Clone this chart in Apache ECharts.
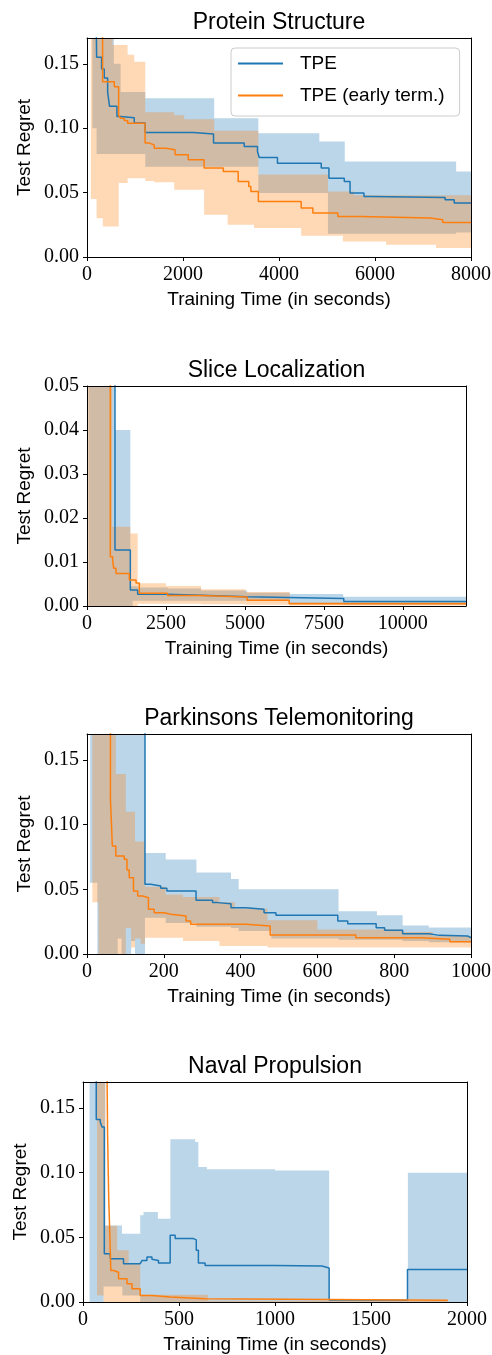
<!DOCTYPE html>
<html>
<head>
<meta charset="utf-8">
<script src="https://cdn.jsdelivr.net/npm/echarts@6/dist/echarts.min.js"></script>
<style>
  html, body { margin: 0; padding: 0; background: #fff; }
  #main { width: 492px; height: 1355px; }
</style>
</head>
<body>
<div id="main"></div>
<script>
// ---- data (time in seconds, test regret) ----
// Protein Structure
const protTpeT = [175, 200, 304, 360, 430, 470, 624, 700, 985, 1214, 2220, 2636, 3275, 3552, 3587, 3968, 4880, 5040, 5360, 5480, 5770, 5920, 7460, 7650, 8000];
const protTpe = [0.25, 0.155, 0.146, 0.139, 0.128, 0.117, 0.109, 0.108, 0.104, 0.0966, 0.0955, 0.0884, 0.0857, 0.0819, 0.0772, 0.0728, 0.069, 0.0612, 0.0586, 0.0496, 0.047, 0.0462, 0.0444, 0.0419, 0.0419];
const protEtT = [242, 325, 569, 659, 700, 777, 846, 1210, 1300, 1401, 1644, 1835, 2110, 2440, 2840, 3150, 3370, 3414, 3570, 4462, 4705, 5225, 5710, 7150, 7411, 8000];
const protEt = [0.25, 0.136, 0.1322, 0.110, 0.1077, 0.106, 0.1039, 0.0884, 0.087, 0.0845, 0.0832, 0.0793, 0.0754, 0.069, 0.0664, 0.0586, 0.0547, 0.0508, 0.0431, 0.038, 0.0341, 0.0315, 0.0302, 0.0289, 0.0268, 0.0268];
const protTpeBandT = [110, 200, 560, 700, 1214, 2650, 3570, 4840, 5020, 5370, 5480, 7690, 8000];
const protTpeLo = [0.10, 0.08, 0.08, 0.08, 0.070, 0.070, 0.0496, 0.0496, 0.018, 0.018, 0.018, 0.019, 0.019];
const protTpeHi = [0.25, 0.25, 0.15, 0.128, 0.1232, 0.1077, 0.0961, 0.0896, 0.0896, 0.0741, 0.0741, 0.0664, 0.0664];
const protEtBandT = [80, 200, 330, 533, 660, 846, 985, 1214, 1400, 1817, 2025, 2440, 2650, 2930, 3480, 3570, 4462, 5020, 5330, 5560, 6230, 7272, 8000];
const protEtLo = [0.045, 0.030, 0.0237, 0.0237, 0.0574, 0.0612, 0.0612, 0.059, 0.058, 0.0522, 0.0522, 0.0328, 0.0328, 0.025, 0.0225, 0.0225, 0.0165, 0.0165, 0.0121, 0.0121, 0.0095, 0.007, 0.007];
const protEtHi = [0.25, 0.25, 0.25, 0.1646, 0.1646, 0.157, 0.1516, 0.1124, 0.1124, 0.110, 0.107, 0.107, 0.098, 0.098, 0.098, 0.064, 0.064, 0.0508, 0.0508, 0.048, 0.048, 0.048, 0.048];

// Slice Localization
const sliceTpeT = [100, 886, 1372, 1604, 2555, 3612, 5070, 8130, 12000];
const sliceTpe = [0.1, 0.0127, 0.00363, 0.00266, 0.00243, 0.0021, 0.00168, 0.001, 0.001];
const sliceEtT = [80, 738, 812, 844, 918, 1340, 1552, 1657, 2555, 3590, 5070, 6400, 12000];
const sliceEt = [0.1, 0.0112, 0.0105, 0.0086, 0.0074, 0.0059, 0.0052, 0.00288, 0.0024, 0.00204, 0.0013, 0.0005, 0.0005];
const sliceTpeBandT = [50, 886, 1372, 1446, 1604, 2555, 3612, 5070, 6421, 8111, 12000];
const sliceTpeLo = [0, 0, 0, 0.0012, 0.0012, 0.0012, 0.0012, 0.0012, 0.0006, 0.0003, 0.0003];
const sliceTpeHi = [0.1, 0.040, 0.0045, 0.0045, 0.0042, 0.0040, 0.0035, 0.003, 0.0027, 0.0021, 0.0021];
const sliceEtBandT = [30, 800, 1372, 1604, 2502, 3612, 5020, 6421, 12000];
const sliceEtLo = [0, 0, 0, 0.0005, 0.0005, 0.0004, 0.0003, 0.0001, 0.0001];
const sliceEtHi = [0.1, 0.018, 0.0165, 0.00515, 0.00454, 0.0038, 0.0032, 0.0009, 0.0009];

// Parkinsons Telemonitoring
const parkTpeT = [20, 151, 166, 192, 208, 284, 327, 340, 375, 414, 461, 492, 653, 679, 753, 775, 822, 891, 917, 991, 1000];
const parkTpe = [0.3, 0.0539, 0.0526, 0.0508, 0.0487, 0.0415, 0.0397, 0.0389, 0.0358, 0.0345, 0.0319, 0.0299, 0.0255, 0.0234, 0.0203, 0.0183, 0.0157, 0.0144, 0.0139, 0.0126, 0.0126];
const parkEtT = [14, 61, 66, 75, 97, 104, 110, 121, 132, 145, 160, 175, 201, 218, 258, 270, 414, 477, 700, 870, 945, 1000];
const parkEt = [0.3, 0.12, 0.0835, 0.0758, 0.0732, 0.065, 0.059, 0.0487, 0.0448, 0.0435, 0.0345, 0.0319, 0.0307, 0.0294, 0.0255, 0.023, 0.0216, 0.0147, 0.0126, 0.0114, 0.0095, 0.0095];
const parkTpeBandT = [8, 27, 75, 80, 90, 115, 125, 151, 205, 285, 375, 395, 480, 655, 755, 822, 890, 1000];
const parkTpeLo = [0.055, 0, 0, 0.012, 0, 0.01, 0, 0.028, 0.024, 0.021, 0.020, 0.0178, 0.012, 0.011, 0.011, 0.010, 0.009, 0.009];
const parkTpeHi = [0.3, 0.3, 0.3, 0.3, 0.3, 0.3, 0.3, 0.078, 0.073, 0.063, 0.058, 0.050, 0.050, 0.033, 0.030, 0.022, 0.0205, 0.0205];
const parkEtBandT = [14, 30, 75, 101, 115, 125, 140, 151, 205, 250, 270, 345, 385, 470, 600, 822, 900, 1000];
const parkEtLo = [0.04, 0, 0, 0.02, 0.005, 0.012, 0.008, 0.0126, 0.0126, 0.010, 0.010, 0.0062, 0.0062, 0.005, 0.005, 0.005, 0.005, 0.005];
const parkEtHi = [0.3, 0.3, 0.139, 0.11, 0.11, 0.087, 0.087, 0.052, 0.046, 0.044, 0.044, 0.040, 0.035, 0.026, 0.019, 0.017, 0.014, 0.014];

// Naval Propulsion
const navTpeT = [30, 69, 90, 99, 111, 142, 211, 298, 307, 333, 359, 367, 393, 454, 480, 575, 590, 601, 636, 1000, 1244, 1282, 1417, 1690, 2000];
const navTpe = [0.3, 0.141, 0.139, 0.1353, 0.0373, 0.0335, 0.0296, 0.031, 0.032, 0.0347, 0.033, 0.032, 0.0302, 0.0515, 0.049, 0.048, 0.040, 0.0302, 0.0283, 0.0278, 0.0263, 0.0016, 0.0013, 0.0252, 0.0252];
const navEtT = [100, 121, 128, 134, 140, 145, 160, 185, 229, 255, 298, 359, 454, 636, 1900];
const navEt = [0.3, 0.25, 0.13, 0.08, 0.05, 0.0244, 0.023, 0.018, 0.0141, 0.0103, 0.0051, 0.0039, 0.0026, 0.0013, 0.0013];
const navTpeBandT = [34, 107, 116, 203, 205, 298, 315, 390, 455, 584, 601, 645, 1000, 1282, 1692, 2000];
const navTpeLo = [0, 0.012, 0.012, 0.012, 0.005, 0, 0, 0, 0, 0, 0, 0, 0, 0, 0, 0];
const navTpeHi = [0.3, 0.3, 0.0592, 0.0528, 0.0528, 0.067, 0.0696, 0.0644, 0.1257, 0.1237, 0.1044, 0.1025, 0.1017, 0.002, 0.0999, 0.0999];
const navEtBandT = [73, 107, 116, 178, 238, 298, 652, 1900];
const navEtLo = [0.005, 0, 0, 0, 0, 0, 0, 0];
const navEtHi = [0.3, 0.3, 0.059, 0.040, 0.030, 0.0056, 0.001, 0.001];

const titles = ['Protein Structure', 'Slice Localization', 'Parkinsons Telemonitoring', 'Naval Propulsion'];
const xMaxes = [8000, 12000, 1000, 2000];
const xTickVals = [
  [0, 2000, 4000, 6000, 8000],
  [0, 2500, 5000, 7500, 10000],
  [0, 200, 400, 600, 800, 1000],
  [0, 500, 1000, 1500, 2000]
];
const yMaxes = [0.17, 0.05, 0.17, 0.17];
const yTickVals = [
  [0, 0.05, 0.10, 0.15],
  [0, 0.01, 0.02, 0.03, 0.04, 0.05],
  [0, 0.05, 0.10, 0.15],
  [0, 0.05, 0.10, 0.15]
];

const panels = [
  { tpe: [protTpeT, protTpe], et: [protEtT, protEt], tpeBand: [protTpeBandT, protTpeLo, protTpeHi], etBand: [protEtBandT, protEtLo, protEtHi] },
  { tpe: [sliceTpeT, sliceTpe], et: [sliceEtT, sliceEt], tpeBand: [sliceTpeBandT, sliceTpeLo, sliceTpeHi], etBand: [sliceEtBandT, sliceEtLo, sliceEtHi] },
  { tpe: [parkTpeT, parkTpe], et: [parkEtT, parkEt], tpeBand: [parkTpeBandT, parkTpeLo, parkTpeHi], etBand: [parkEtBandT, parkEtLo, parkEtHi] },
  { tpe: [navTpeT, navTpe], et: [navEtT, navEt], tpeBand: [navTpeBandT, navTpeLo, navTpeHi], etBand: [navEtBandT, navEtLo, navEtHi] }
];

// ---- layout / style ----
const C_TPE = '#1f77b4';
const C_ET = '#ff7f0e';
const SANS = "'Liberation Sans', Arial, sans-serif";
const SERIF = "'Liberation Serif', 'Times New Roman', serif";

const grids = [
  { left: 87, top: 38, width: 384, height: 219 },
  { left: 87, top: 386, width: 379, height: 220 },
  { left: 87, top: 734, width: 384, height: 220 },
  { left: 83, top: 1082, width: 384, height: 220 }
];

// band rows [t, lo, hi]; the shaded step polygon is drawn through api.coord
function bandSeries(i, band, color) {
  const t = band[0], lo = band[1], hi = band[2];
  const rows = t.map((x, k) => [x, lo[k], hi[k]]);
  return {
    type: 'custom', xAxisIndex: 2 * i, yAxisIndex: 2 * i, z: 1, silent: true, clip: true,
    encode: { x: 0, y: [1, 2] },
    data: rows,
    renderItem: function (params, api) {
      if (params.dataIndex !== 0) return null;
      const n = rows.length;
      const pts = [];
      for (let k = 0; k < n; k++) {
        pts.push(api.coord([rows[k][0], rows[k][2]]));
        if (k < n - 1) pts.push(api.coord([rows[k + 1][0], rows[k][2]]));
      }
      for (let k = n - 1; k >= 0; k--) {
        if (k < n - 1) pts.push(api.coord([rows[k + 1][0], rows[k][1]]));
        pts.push(api.coord([rows[k][0], rows[k][1]]));
      }
      return { type: 'polygon', shape: { points: pts }, style: { fill: color, opacity: 0.3 } };
    }
  };
}

function lineSeries(i, name, line, color) {
  return {
    type: 'line', name: name, xAxisIndex: 2 * i, yAxisIndex: 2 * i, step: 'end',
    symbol: 'none', z: 3, silent: true,
    data: line[0].map((x, k) => [x, line[1][k]]),
    lineStyle: { color: color, width: 1.5 },
    itemStyle: { color: color },
    emphasis: { disabled: true }
  };
}

const xAxis = [], yAxis = [], series = [];
const blackLine = { show: true, onZero: false, lineStyle: { color: '#000', width: 1 } };

panels.forEach((p, i) => {
  xAxis.push({
    gridIndex: i, type: 'value', min: 0, max: xMaxes[i], position: 'bottom', z: 5,
    axisLine: blackLine,
    axisTick: { show: true, inside: false, length: 4, customValues: xTickVals[i], lineStyle: { color: '#000', width: 1 } },
    axisLabel: { customValues: xTickVals[i], margin: 8, formatter: v => String(v), fontFamily: SERIF, fontSize: 20, color: '#000' },
    splitLine: { show: false },
    name: 'Training Time (in seconds)', nameLocation: 'middle', nameGap: 33, nameMoveOverlap: false,
    nameTextStyle: { fontFamily: SANS, fontSize: 19, color: '#000' }
  });
  xAxis.push({
    gridIndex: i, type: 'value', min: 0, max: xMaxes[i], position: 'top', z: 5,
    axisLine: blackLine, axisTick: { show: false }, axisLabel: { show: false }, splitLine: { show: false },
    name: titles[i], nameLocation: 'middle', nameGap: 4, nameMoveOverlap: false,
    nameTextStyle: { fontFamily: SANS, fontSize: 23, color: '#000' }
  });
  yAxis.push({
    gridIndex: i, type: 'value', min: 0, max: yMaxes[i], position: 'left', z: 5,
    axisLine: blackLine,
    axisTick: { show: true, inside: false, length: 4, customValues: yTickVals[i], lineStyle: { color: '#000', width: 1 } },
    axisLabel: { customValues: yTickVals[i], margin: 8, formatter: v => v.toFixed(2), fontFamily: SERIF, fontSize: 20, color: '#000' },
    splitLine: { show: false },
    name: 'Test Regret', nameLocation: 'middle', nameGap: 53, nameMoveOverlap: false,
    nameTextStyle: { fontFamily: SANS, fontSize: 19, color: '#000' }
  });
  yAxis.push({
    gridIndex: i, type: 'value', min: 0, max: yMaxes[i], position: 'right', z: 5,
    axisLine: blackLine, axisTick: { show: false }, axisLabel: { show: false }, splitLine: { show: false }
  });

  series.push(bandSeries(i, p.tpeBand, C_TPE));
  series.push(bandSeries(i, p.etBand, C_ET));
  series.push(lineSeries(i, 'TPE', p.tpe, C_TPE));
  series.push(lineSeries(i, 'TPE (early term.)', p.et, C_ET));
});

const chart = echarts.init(document.getElementById('main'), null, { renderer: 'canvas' });
chart.setOption({
  animation: false,
  backgroundColor: '#fff',
  grid: grids.map(g => Object.assign({ containLabel: false, outerBoundsMode: 'none' }, g)),
  xAxis: xAxis,
  yAxis: yAxis,
  legend: {
    data: ['TPE', 'TPE (early term.)'],
    orient: 'vertical', left: 231, top: 48,
    icon: 'rect', itemWidth: 45, itemHeight: 2, itemGap: 13,
    padding: [6, 15, 11, 7],
    backgroundColor: 'rgba(255,255,255,0.8)',
    borderColor: '#cccccc', borderWidth: 1, borderRadius: 4,
    selectedMode: false, z: 10,
    textStyle: { fontFamily: SANS, fontSize: 19, color: '#000', padding: [0, 0, 0, 12] }
  },
  series: series
});
</script>
</body>
</html>
